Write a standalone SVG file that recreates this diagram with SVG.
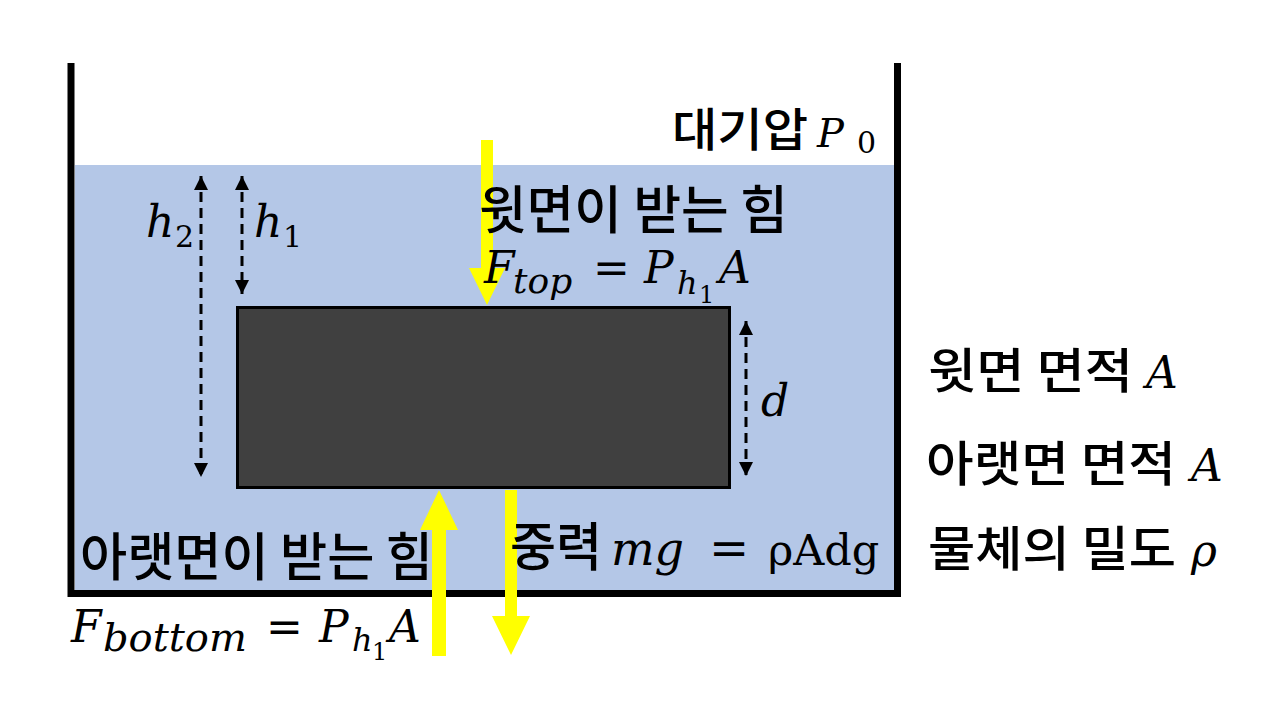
<svg xmlns="http://www.w3.org/2000/svg" width="1280" height="720" viewBox="0 0 1280 720">
<defs>
<style>
.kr{font-family:"Noto Sans CJK KR","Noto Sans",sans-serif;font-weight:500;fill:#000;}
.m{font-family:"DejaVu Serif","Liberation Serif",serif;fill:#000;}
.it{font-style:italic;}
.dash{stroke:#000;stroke-width:3;stroke-dasharray:10 6;fill:none;}
.yl{fill:#FFFF00;}
</style>
<marker id="ah" markerUnits="userSpaceOnUse" markerWidth="14" markerHeight="14" refX="12" refY="6" orient="auto-start-reverse" viewBox="0 0 12 12">
<path d="M0,0 L12,6 L0,12 Z" fill="#000"/>
</marker>
</defs>
<rect width="1280" height="720" fill="#fff"/>
<g id="water"><rect x="75" y="165" width="820" height="426" fill="#B4C7E7"/></g>
<g id="container"><path d="M71,63 V593.5 H897.5 V63" fill="none" stroke="#000" stroke-width="7"/></g>
<g id="block"><rect x="237.5" y="307.5" width="492" height="180" fill="#404040" stroke="#000" stroke-width="3"/></g>
<g id="connectors">
<line class="dash" x1="201" y1="176" x2="201" y2="477" marker-start="url(#ah)" marker-end="url(#ah)"/>
<line class="dash" x1="242" y1="176" x2="242" y2="294" marker-start="url(#ah)" marker-end="url(#ah)"/>
<line class="dash" x1="746" y1="321" x2="746" y2="476" marker-start="url(#ah)" marker-end="url(#ah)"/>
<path class="yl" d="M481,140 H493 V268 H505 L487,305 L469,268 H481 Z"/>
<path class="yl" d="M505,490 H517 V616 H530 L511,655 L492,616 H505 Z"/>
</g>
<g id="label-atm">
<text class="kr" x="672" y="146" font-size="46" textLength="136" lengthAdjust="spacingAndGlyphs">대기압</text>
<text class="m" font-size="40"><tspan class="it" x="817" y="147">P</tspan><tspan x="857" y="153" font-size="30">0</tspan></text>
</g>
<g id="label-h2">
<text class="m" font-size="44"><tspan class="it" x="146" y="237">h</tspan><tspan x="175" y="247" font-size="30">2</tspan></text>
</g>
<g id="label-h1">
<text class="m" font-size="44"><tspan class="it" x="254" y="237">h</tspan><tspan x="283" y="247" font-size="30">1</tspan></text>
</g>
<g id="label-d"><text class="m it" x="761" y="416" font-size="44">d</text></g>
<g id="label-top">
<text class="kr" x="479" y="229" font-size="52" textLength="309" lengthAdjust="spacingAndGlyphs">윗면이 받는 힘</text>
<text class="m" font-size="44"><tspan class="it" x="484" y="283">F</tspan><tspan class="it" x="513" y="293" font-size="36">top</tspan><tspan x="593" y="283">=</tspan><tspan class="it" x="644" y="283">P</tspan><tspan class="it" x="677" y="294" font-size="32">h</tspan><tspan x="699" y="303" font-size="24">1</tspan><tspan class="it" x="719" y="283">A</tspan></text>
</g>
<g id="label-bottom">
<text class="kr" x="80" y="576" font-size="52" textLength="353" lengthAdjust="spacingAndGlyphs">아랫면이 받는 힘</text>
<text class="m" font-size="44"><tspan class="it" x="71" y="642">F</tspan><tspan class="it" x="103" y="651" font-size="40">bottom</tspan><tspan x="266" y="642">=</tspan><tspan class="it" x="319" y="642">P</tspan><tspan class="it" x="352" y="651" font-size="32">h</tspan><tspan x="372" y="660" font-size="24">1</tspan><tspan class="it" x="389" y="642">A</tspan></text>
</g>
<g id="label-gravity">
<text class="kr" x="510" y="566" font-size="52" textLength="92" lengthAdjust="spacingAndGlyphs">중력</text>
<text class="m" font-size="46"><tspan class="it" x="611" y="565">mg</tspan><tspan x="709" y="565" font-size="48">=</tspan><tspan x="768" y="565" font-size="43">ρAdg</tspan></text>
</g>
<g id="arrow-up-layer">
<path class="yl" d="M432,656 H446 V530 H458 L439,490 L420,530 H432 Z"/>
</g>
<g id="legend">
<text class="kr" x="928" y="388" font-size="48" textLength="205" lengthAdjust="spacingAndGlyphs">윗면 면적</text>
<text class="m it" x="1146" y="388" font-size="44">A</text>
<text class="kr" x="926" y="481" font-size="48" textLength="250" lengthAdjust="spacingAndGlyphs">아랫면 면적</text>
<text class="m it" x="1191" y="481" font-size="44">A</text>
<text class="kr" x="928" y="566" font-size="48" textLength="248" lengthAdjust="spacingAndGlyphs">물체의 밀도</text>
<text class="m it" x="1191" y="566" font-size="44">ρ</text>
</g>
</svg>
